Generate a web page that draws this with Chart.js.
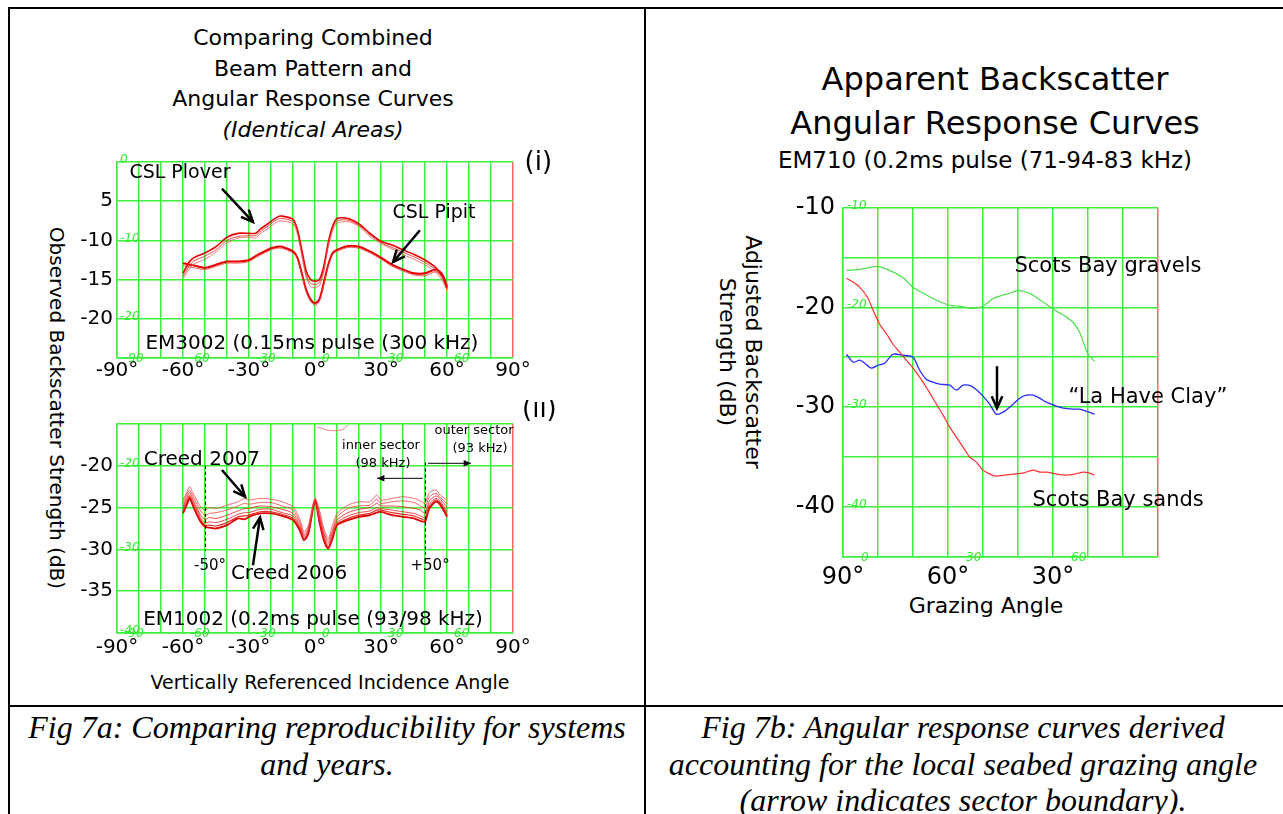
<!DOCTYPE html>
<html><head><meta charset="utf-8">
<script src="https://cdn.jsdelivr.net/npm/chart.js@4.4.1/dist/chart.umd.min.js"></script>
<style>
html,body{margin:0;padding:0;background:#fff;}
body{width:1283px;height:814px;position:relative;overflow:hidden;font-family:'DejaVu Sans',sans-serif;color:#000;}
.ln{position:absolute;background:#000;}
.t{position:absolute;text-align:center;white-space:nowrap;}
canvas{position:absolute;}
.cap{position:absolute;font-family:'Liberation Serif','Times New Roman',serif;font-style:italic;font-size:32px;line-height:36.5px;text-align:center;white-space:nowrap;}
</style></head><body>
<div class="ln" style="left:8px;top:7px;width:1275px;height:2px"></div>
<div class="ln" style="left:8px;top:7px;width:2px;height:807px"></div>
<div class="ln" style="left:644px;top:7px;width:2px;height:807px"></div>
<div class="ln" style="left:8px;top:705px;width:1275px;height:2px"></div>

<div class="t" style="left:13px;width:600px;top:23px;font-size:22px;line-height:30.5px">Comparing Combined<br>Beam Pattern and<br>Angular Response Curves<br><i>(Identical Areas)</i></div>
<div class="t" style="left:57px;top:408px;font-size:20px;transform:translate(-50%,-50%) rotate(90deg)">Observed Backscatter Strength (dB)</div>
<div class="t" style="left:130px;width:400px;top:669px;font-size:19px;line-height:26px">Vertically Referenced Incidence Angle</div>

<div class="t" style="left:695px;width:600px;top:57px;font-size:32px;line-height:44px">Apparent Backscatter<br>Angular Response Curves</div>
<div class="t" style="left:685px;width:600px;top:145px;font-size:23px;line-height:30px">EM710 (0.2ms pulse (71-94-83 kHz)</div>
<div class="t" style="left:740px;top:352px;font-size:22px;line-height:26px;transform:translate(-50%,-50%) rotate(90deg)">Adjusted Backscatter<br>Strength (dB)</div>
<div class="t" style="left:836px;width:300px;top:592px;font-size:22px;line-height:28px">Grazing Angle</div>

<div class="cap" style="left:22px;width:610px;top:709px">Fig 7a: Comparing reproducibility for systems<br>and years.</div>
<div class="cap" style="left:658px;width:610px;top:709px">Fig 7b: Angular response curves derived<br>accounting for the local seabed grazing angle<br>(arrow indicates sector boundary).</div>

<canvas id="c1" width="510" height="250" style="left:60px;top:140px"></canvas>
<canvas id="c2" width="510" height="265" style="left:60px;top:400px"></canvas>
<canvas id="c3" width="500" height="415" style="left:770px;top:185px"></canvas>

<script>
// ---------- DATA ----------
// Chart (i): EM3002, incidence angle (deg)
const anglesI = [-60,-57,-55,-50,-45,-40,-35,-30,-27,-25,-20,-17,-15,-10,-8,-6,-4,-2,0,2,4,6,8,10,15,20,25,30,35,40,45,50,55,58,60];
const plover1 = [-14.2,-12.7,-12.2,-11.6,-10.8,-9.6,-9.1,-9.1,-9.1,-8.6,-7.6,-7.0,-6.9,-7.3,-8.6,-11.2,-13.9,-15.0,-15.2,-15.0,-13.3,-10.3,-8.2,-7.2,-7.2,-7.9,-9.1,-10.1,-10.6,-11.2,-11.8,-12.5,-13.5,-14.6,-16.1];
const plover2 = [-14.6,-13.2,-12.6,-12.0,-11.2,-10.0,-9.5,-9.4,-9.4,-8.9,-7.9,-7.3,-7.2,-7.6,-8.9,-11.6,-14.4,-15.5,-15.6,-15.4,-13.7,-10.6,-8.5,-7.5,-7.4,-8.1,-9.3,-10.3,-10.9,-11.5,-12.1,-12.8,-13.8,-14.9,-16.3];
const plover3 = [-14.9,-13.6,-13.0,-12.4,-11.5,-10.3,-9.7,-9.6,-9.7,-9.2,-8.2,-7.6,-7.5,-7.9,-9.2,-12.0,-14.7,-15.9,-16.0,-15.8,-14.0,-10.9,-8.8,-7.8,-7.6,-8.2,-9.5,-10.4,-11.1,-11.8,-12.4,-13.1,-14.1,-15.2,-16.4];
const pipit1  = [-12.9,-13.1,-13.2,-13.5,-13.1,-12.7,-12.7,-12.5,-12.0,-11.7,-11.0,-10.8,-10.8,-11.4,-12.2,-14.2,-16.3,-17.5,-18.0,-17.5,-15.4,-13.1,-11.6,-11.2,-10.7,-10.8,-11.4,-12.2,-13.1,-13.7,-14.2,-14.2,-13.7,-14.4,-15.9];
const pipit2  = [-13.2,-13.4,-13.5,-13.7,-13.3,-12.9,-12.9,-12.7,-12.2,-11.9,-11.2,-11.0,-11.0,-11.6,-12.4,-14.4,-16.6,-17.8,-18.3,-17.8,-15.7,-13.3,-11.8,-11.4,-10.9,-11.0,-11.6,-12.4,-13.3,-13.9,-14.4,-14.5,-14.0,-14.7,-16.2];

// Chart (ii): EM1002
const anglesII = [-60,-58,-57,-55,-52,-50,-48,-45,-40,-35,-32,-30,-25,-20,-15,-10,-7,-5,-3,0,2,4,6,8,10,15,20,25,28,30,35,40,45,48,50,52,55,57,60];
const creedA = [-24.1,-23.0,-22.5,-23.5,-24.9,-25.3,-25.0,-25.1,-24.7,-24.3,-23.9,-24.1,-23.9,-24.0,-24.3,-24.9,-26.3,-27.9,-27.1,-23.9,-25.3,-27.5,-28.7,-27.1,-25.7,-24.7,-24.3,-24.3,-23.5,-24.1,-23.9,-23.7,-23.9,-24.2,-24.5,-23.2,-22.9,-23.5,-24.1];
const creedB = [-24.5,-23.3,-22.9,-23.9,-25.4,-25.9,-25.7,-25.6,-25.3,-24.8,-24.5,-24.6,-24.4,-24.4,-24.8,-25.3,-26.7,-28.2,-27.4,-23.9,-25.7,-27.9,-29.0,-27.6,-26.1,-25.1,-24.8,-24.7,-24.0,-24.5,-24.3,-24.2,-24.4,-24.8,-25.0,-23.7,-23.3,-23.8,-24.5];
const creedC = [-24.9,-23.6,-23.2,-24.3,-25.9,-26.4,-26.2,-26.3,-25.9,-25.4,-25.1,-25.1,-24.8,-24.9,-25.2,-25.7,-27.0,-28.4,-27.6,-24.0,-26.0,-28.2,-29.3,-27.9,-26.5,-25.6,-25.2,-25.0,-24.5,-24.8,-24.8,-24.9,-25.1,-25.3,-25.7,-24.2,-23.6,-24.0,-25.0];
const creedD = [-25.2,-23.9,-23.5,-24.6,-26.2,-26.8,-26.7,-26.8,-26.4,-25.8,-25.6,-25.6,-25.2,-25.2,-25.6,-26.0,-27.3,-28.6,-27.8,-24.1,-26.3,-28.5,-29.6,-28.3,-26.8,-26.0,-25.6,-25.4,-25.0,-25.1,-25.3,-25.5,-25.7,-26.0,-26.2,-24.6,-23.9,-24.3,-25.5];
const creedE = [-25.5,-24.2,-23.7,-24.9,-26.5,-27.1,-27.1,-27.2,-26.8,-26.1,-26.0,-25.9,-25.5,-25.5,-25.8,-26.3,-27.5,-28.8,-28.0,-24.2,-26.5,-28.7,-29.8,-28.5,-27.0,-26.3,-25.9,-25.7,-25.3,-25.3,-25.6,-25.8,-26.0,-26.3,-26.5,-24.9,-24.1,-24.5,-25.8];
const creedF = [-25.7,-24.5,-23.9,-25.1,-26.7,-27.3,-27.4,-27.5,-27.1,-26.3,-26.4,-26.1,-25.7,-25.7,-26.0,-26.5,-27.7,-28.9,-28.1,-24.2,-26.7,-28.9,-29.9,-28.7,-27.1,-26.5,-26.1,-25.9,-25.6,-25.5,-25.9,-26.1,-26.3,-26.6,-26.7,-25.1,-24.3,-24.7,-26.1];
const topTraceAngles = [1,3,5,8,10,13,15];
const topTrace = [-15.4,-15.5,-15.7,-15.8,-15.8,-15.6,-15.1];

// Right chart: EM710, grazing angle (deg)
const gravelAngles = [89,85,80.5,76.7,73,70,66.5,63.3,59.5,56.7,52.9,50,47,44.5,42.4,40,37.5,35.7,31.9,29,26.5,24.3,22.4,20,18.1];
const gravels = [-16.3,-16.2,-15.9,-16.3,-17.0,-18.0,-18.7,-19.3,-19.8,-19.9,-20.1,-19.9,-19.1,-18.8,-18.6,-18.3,-18.5,-18.8,-19.7,-20.4,-20.9,-21.5,-22.5,-24.7,-25.4];
const sandAngles = [89,87,85.2,83,81.4,79.5,77.5,75.7,73.8,71.9,70,68.1,65.7,63.3,61.4,59.5,57.6,55.7,53.8,51.9,50,48,46.2,43.8,41.4,38.6,35.7,33.8,31.9,29,26.2,23.8,21.4,19.5,18.1];
const sands = [-17.1,-17.5,-18.0,-19.0,-20.3,-21.7,-22.7,-23.7,-24.5,-25.3,-26.1,-27.0,-28.3,-29.7,-30.8,-32.0,-33.0,-34.0,-35.0,-35.5,-36.3,-36.7,-36.9,-36.8,-36.7,-36.6,-36.3,-36.5,-36.5,-36.7,-36.8,-36.7,-36.5,-36.6,-36.8];
const clayAngles = [89,87.1,85.2,83.8,81.9,80,78.1,75.7,72.9,70,68.1,66.2,64.3,62.4,59.5,57.6,55.7,53.3,51.4,50,48.1,46.2,44.3,41.4,39.5,37.6,35.7,33.8,31.9,29,27.1,24.3,22.4,20.5,18.1];
const clay = [-24.7,-25.5,-25.3,-25.6,-26.1,-25.8,-25.6,-24.7,-24.8,-25.0,-26.3,-27.2,-27.5,-27.7,-27.8,-28.3,-27.8,-27.9,-28.4,-28.9,-29.7,-30.7,-30.5,-29.7,-29.1,-28.8,-28.8,-29.1,-29.5,-29.9,-30.1,-30.2,-30.2,-30.4,-30.7];

// Tick labels
const xTickValsLR = [-90,-60,-30,0,30,60,90];
const xTickLabelsLR = ['-90°','-60°','-30°','0°','30°','60°','90°'];
const yTickValsI = [-5,-10,-15,-20];
const yTickLabelsI = ['5','-10','-15','-20'];
const yTickValsII = [-20,-25,-30,-35];
const yTickLabelsII = ['-20','-25','-30','-35'];
const xTickValsR = [90,60,30];
const xTickLabelsR = ['90°','60°','30°'];
const yTickValsR = [-10,-20,-30,-40];
const yTickLabelsR = ['-10','-20','-30','-40'];
// small green secondary labels
const greenXValsLR = [-90,-60,-30,0,30,60];
const greenXTextLR = ['-90','-60','-30','0','30','60'];
const greenYValsI = [0,-10,-20];
const greenYTextI = ['0','-10','-20'];
const greenYValsII = [-20,-30,-40];
const greenYTextII = ['-20','-30','-40'];
const greenXValsR = [90,60,30];
const greenXTextR = ['0','30','60'];
const greenYValsR = [-10,-20,-30,-40];
const greenYTextR = ['-10','-20','-30','-40'];

// ---------- DRAWING ----------
const FONT = "'DejaVu Sans', sans-serif";
const GREEN = 'rgb(60,240,60)';
const EDGE_RED = 'rgb(255,100,100)';

function pts(xs, ys){ return xs.map((a,i)=>({x:a, y:ys[i]})); }

function drawArrow(ctx, x1, y1, x2, y2, w, head, filled){
  ctx.strokeStyle = '#000'; ctx.fillStyle = '#000'; ctx.lineWidth = w;
  ctx.beginPath(); ctx.moveTo(x1,y1); ctx.lineTo(x2,y2); ctx.stroke();
  const ang = Math.atan2(y2-y1, x2-x1), sp = 0.42;
  const ax = x2 - head*Math.cos(ang-sp), ay = y2 - head*Math.sin(ang-sp);
  const bx = x2 - head*Math.cos(ang+sp), by = y2 - head*Math.sin(ang+sp);
  ctx.beginPath();
  if (filled){ ctx.moveTo(x2,y2); ctx.lineTo(ax,ay); ctx.lineTo(bx,by); ctx.closePath(); ctx.fill(); }
  else { ctx.moveTo(ax,ay); ctx.lineTo(x2,y2); ctx.lineTo(bx,by); ctx.stroke(); }
}

function notesPlugin(notes){
  return {
    id:'notes',
    afterDraw(chart){
      const {ctx} = chart, xs = chart.scales.x, ys = chart.scales.y;
      const X = v => xs.getPixelForValue(v), Y = v => ys.getPixelForValue(v);
      ctx.save();
      (notes.dashes||[]).forEach(d=>{
        ctx.setLineDash([3,3]); ctx.strokeStyle='#000'; ctx.lineWidth=1;
        ctx.beginPath(); ctx.moveTo(Math.round(X(d.x))+0.5, Y(d.y1)); ctx.lineTo(Math.round(X(d.x))+0.5, Y(d.y2)); ctx.stroke();
      });
      ctx.setLineDash([]);
      (notes.arrows||[]).forEach(a=>drawArrow(ctx, X(a.x1), Y(a.y1), X(a.x2), Y(a.y2), a.w, a.head, a.filled));
      (notes.texts||[]).forEach(t=>{
        ctx.font = (t.italic?'italic ':'') + t.size + 'px ' + FONT;
        ctx.fillStyle = '#000'; ctx.textAlign = 'center'; ctx.textBaseline = 'middle';
        ctx.fillText(t.t, X(t.x), Y(t.y));
      });
      ctx.restore();
    }
  };
}

function greenPlugin(g){
  return {
    id:'greenLabels',
    afterDatasetsDraw(chart){
      const {ctx, chartArea} = chart, xs = chart.scales.x, ys = chart.scales.y;
      ctx.save();
      ctx.font = 'italic 12px ' + FONT; ctx.fillStyle = 'rgb(50,235,50)';
      ctx.textAlign = 'left'; ctx.textBaseline = 'middle';
      g.yVals.forEach((v,i)=>ctx.fillText(g.yText[i], chartArea.left + g.yOff, ys.getPixelForValue(v) - 2));
      ctx.textBaseline = 'top';
      g.xVals.forEach((v,i)=>ctx.fillText(g.xText[i], xs.getPixelForValue(v) + g.xOff, chartArea.bottom - 5));
      ctx.restore();
    }
  };
}

function makeChart(id, o){
  const ctx = document.getElementById(id).getContext('2d');
  return new Chart(ctx, {
    type:'line',
    data:{ datasets:o.datasets },
    options:{
      responsive:false, animation:false, devicePixelRatio:1,
      layout:{ padding:o.pad },
      plugins:{ legend:{display:false}, tooltip:{enabled:false} },
      elements:{ point:{radius:0}, line:{tension:0.25} },
      scales:{
        x:{ type:'linear', min:o.xmin, max:o.xmax, reverse:!!o.rev,
            afterFit:s=>{ s.height = o.xh; },
            ticks:{ stepSize:10, autoSkip:false, maxRotation:0, padding:o.xpad, color:'#000',
                    font:{family:FONT, size:o.fs},
                    callback:v=>{ const i = o.xTV.indexOf(v); return i<0 ? '' : o.xTL[i]; } },
            grid:{ color:c=>(c.tick && c.tick.value===o.edge) ? EDGE_RED : GREEN, drawTicks:false, lineWidth:1.5 },
            border:{ color:GREEN, width:1.5 } },
        y:{ type:'linear', min:o.ymin, max:o.ymax,
            afterFit:s=>{ s.width = o.yw; },
            ticks:{ stepSize:5, autoSkip:false, padding:o.ypad, color:'#000',
                    font:{family:FONT, size:o.fs},
                    callback:v=>{ const i = o.yTV.indexOf(v); return i<0 ? '' : o.yTL[i]; } },
            grid:{ color:GREEN, drawTicks:false, lineWidth:1.5 },
            border:{ color:GREEN, width:1.5 } }
      }
    },
    plugins:[ greenPlugin(o.green), notesPlugin(o.notes) ]
  });
}

function redLine(xs, ys, color, w){
  return { data:pts(xs, ys), borderColor:color, borderWidth:w, fill:false };
}

// Chart (i)
makeChart('c1', {
  pad:{top:22, right:57, left:0, bottom:0}, xh:32, yw:57, xpad:1, ypad:4, fs:20,
  xmin:-90, xmax:90, ymin:-25, ymax:0, edge:90,
  xTV:xTickValsLR, xTL:xTickLabelsLR, yTV:yTickValsI, yTL:yTickLabelsI,
  green:{ yVals:greenYValsI, yText:greenYTextI, yOff:3, xVals:greenXValsLR, xText:greenXTextLR, xOff:7 },
  datasets:[
    redLine(anglesI, plover3, 'rgba(240,80,80,0.75)', 1),
    redLine(anglesI, plover2, 'rgba(235,40,40,0.85)', 1),
    redLine(anglesI, plover1, 'rgb(230,0,0)', 1.6),
    redLine(anglesI, pipit2, 'rgba(240,60,60,0.85)', 1),
    redLine(anglesI, pipit1, 'rgb(225,0,0)', 2)
  ],
  notes:{
    texts:[
      {x:-61.4, y:-1.4, t:'CSL Plover', size:19},
      {x:54.1, y:-6.5, t:'CSL Pipit', size:19},
      {x:101.5, y:-0.2, t:'(i)', size:26},
      {x:-1.4, y:-23.2, t:'EM3002 (0.15ms pulse (300 kHz)', size:20}
    ],
    arrows:[
      {x1:-42.3, y1:-3.4, x2:-28.2, y2:-7.65, w:2.5, head:13},
      {x1:47.7, y1:-8.7, x2:35.5, y2:-12.75, w:2.5, head:13}
    ]
  }
});

// Chart (ii)
makeChart('c2', {
  pad:{top:24, right:57, left:0, bottom:0}, xh:32, yw:57, xpad:3, ypad:4, fs:20,
  xmin:-90, xmax:90, ymin:-40, ymax:-15, edge:90,
  xTV:xTickValsLR, xTL:xTickLabelsLR, yTV:yTickValsII, yTL:yTickLabelsII,
  green:{ yVals:greenYValsII, yText:greenYTextII, yOff:3, xVals:greenXValsLR, xText:greenXTextLR, xOff:7 },
  datasets:[
    redLine(topTraceAngles, topTrace, 'rgba(240,90,90,0.8)', 1),
    redLine(anglesII, creedA, 'rgba(240,70,70,0.8)', 1),
    redLine(anglesII, creedB, 'rgba(240,60,60,0.8)', 1),
    redLine(anglesII, creedC, 'rgba(235,40,40,0.85)', 1),
    redLine(anglesII, creedD, 'rgba(235,40,40,0.85)', 1),
    redLine(anglesII, creedE, 'rgba(230,20,20,0.9)', 1.2),
    redLine(anglesII, creedF, 'rgb(225,0,0)', 1.8)
  ],
  notes:{
    dashes:[ {x:-50, y1:-20, y2:-30.2}, {x:50, y1:-19.6, y2:-30.6} ],
    texts:[
      {x:-51.4, y:-19.3, t:'Creed 2007', size:20},
      {x:-11.8, y:-32.9, t:'Creed 2006', size:20},
      {x:-47.7, y:-32, t:'-50°', size:15},
      {x:52.3, y:-32, t:'+50°', size:15},
      {x:30, y:-17.6, t:'inner sector', size:13},
      {x:30.9, y:-19.7, t:'(98 kHz)', size:13},
      {x:72.3, y:-15.8, t:'outer sector', size:13},
      {x:75, y:-17.9, t:'(93 kHz)', size:13},
      {x:102, y:-13.4, t:'(ii)', size:26},
      {x:-0.9, y:-38.4, t:'EM1002 (0.2ms pulse (93/98 kHz)', size:20}
    ],
    arrows:[
      {x1:-42.3, y1:-20.5, x2:-31.8, y2:-23.7, w:2.5, head:13},
      {x1:-28.2, y1:-31.9, x2:-25, y2:-26.2, w:2.5, head:13},
      {x1:49, y1:-21.5, x2:28.2, y2:-21.5, w:1, head:8, filled:true},
      {x1:51.4, y1:-19.7, x2:70.9, y2:-19.7, w:1, head:8, filled:true}
    ]
  }
});

// Right chart
makeChart('c3', {
  pad:{top:22, right:112, left:0, bottom:0}, xh:43, yw:73, xpad:6, ypad:8, fs:24,
  xmin:0, xmax:90, rev:true, ymin:-45, ymax:-10, edge:0,
  xTV:xTickValsR, xTL:xTickLabelsR, yTV:yTickValsR, yTL:yTickLabelsR,
  green:{ yVals:greenYValsR, yText:greenYTextR, yOff:4, xVals:greenXValsR, xText:greenXTextR, xOff:18 },
  datasets:[
    redLine(gravelAngles, gravels, 'rgb(70,225,70)', 1.2),
    redLine(sandAngles, sands, 'rgb(255,50,50)', 1.2),
    redLine(clayAngles, clay, 'rgb(40,40,255)', 1.3)
  ],
  notes:{
    texts:[
      {x:14.3, y:-15.9, t:'Scots Bay gravels', size:21},
      {x:2.9, y:-29, t:'\u201CLa Have Clay\u201D', size:21},
      {x:11.4, y:-39.3, t:'Scots Bay sands', size:21}
    ],
    arrows:[ {x1:46, y1:-25.9, x2:46, y2:-30.1, w:2.5, head:13} ]
  }
});
</script>
</body></html>
